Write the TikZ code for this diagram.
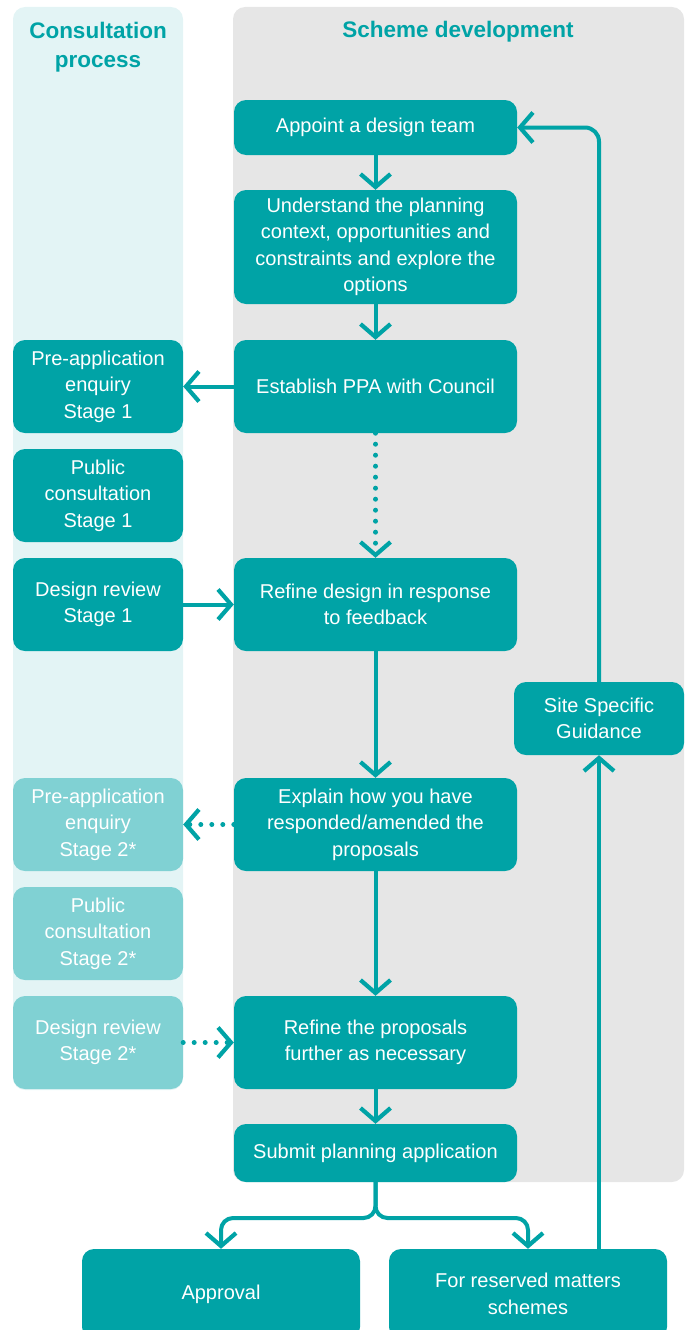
\documentclass[tikz,border=0pt]{standalone}
\usepackage{fontspec}
\setmainfont{Liberation Sans}
\usepackage{tikz}
\usetikzlibrary{arrows.meta,positioning}

\definecolor{teal}{HTML}{00A3A6}
\definecolor{lightteal}{HTML}{80D1D3}
\definecolor{consultbg}{HTML}{E3F4F5}
\definecolor{schemebg}{HTML}{E6E6E6}

\begin{document}
\begin{tikzpicture}[
    x=1pt, y=-1pt,
    box/.style={rectangle, rounded corners=12pt, fill=teal, text=white, minimum width=283pt, minimum height=93pt, align=center, font=\fontsize{20}{26.5}\selectfont, inner sep=2pt},
    sidebox/.style={box, minimum width=170pt},
    lightbox/.style={sidebox, fill=lightteal},
    band/.style={rounded corners=12pt},
    heading/.style={text=teal, align=center, font=\bfseries\fontsize{22.5}{29}\selectfont},
    arrow/.style={draw=teal, line width=4pt, -{Straight Barb[length=13pt, width=30pt, line width=4.2pt]}},
    dotarrow/.style={arrow, line width=5pt, line cap=round, dash pattern=on 0pt off 11pt}
]
    \useasboundingbox (0,0) rectangle (688,1330);

    % column backgrounds
    \fill[consultbg, band] (13,7) rectangle (183,1090);
    \fill[schemebg, band] (233,7) rectangle (684,1182);
    \node[heading] (consulthead) at (98,47) {Consultation\\process};
    \node[heading] (schemehead) at (458,32) {Scheme development};

    % scheme development
    \node[box, minimum height=55pt] (appoint) at (375.5,127.5) {Appoint a design team};
    \node[box, minimum height=114pt] (context) at (375.5,247) {Understand the planning\\context, opportunities and\\constraints and explore the\\options};
    \node[box] (ppa) at (375.5,386.5) {Establish PPA with Council};
    \node[box] (refine) at (375.5,604.5) {Refine design in response\\to feedback};
    \node[box] (explain) at (375.5,824.5) {Explain how you have\\responded/amended the\\proposals};
    \node[box] (further) at (375.5,1042.5) {Refine the proposals\\further as necessary};
    \node[box, minimum height=58pt] (submit) at (375.5,1153) {Submit planning application};
    \node[box, minimum width=278pt, minimum height=90pt] (approval) at (221,1294) {Approval};
    \node[box, minimum width=278pt, minimum height=90pt] (reserved) at (528,1294) {For reserved matters\\schemes};
    \node[sidebox, minimum height=73pt] (guidance) at (599,718.5) {Site Specific\\Guidance};

    % consultation process
    \node[sidebox] (preapp1) at (98,386.5) {Pre-application\\enquiry\\Stage 1};
    \node[sidebox] (public1) at (98,495.5) {Public\\consultation\\Stage 1};
    \node[sidebox] (review1) at (98,604.5) {Design review\\Stage 1};
    \node[lightbox] (preapp2) at (98,824.5) {Pre-application\\enquiry\\Stage 2*};
    \node[lightbox] (public2) at (98,933.5) {Public\\consultation\\Stage 2*};
    \node[lightbox] (review2) at (98,1042.5) {Design review\\Stage 2*};

    \coordinate (split) at (375.5,1218);

    \draw[arrow] (appoint) -- (context);
    \draw[arrow] (context) -- (ppa);
    \draw[arrow] (ppa) -- (preapp1);
    \draw[dotarrow] (ppa.south) -- (refine.north);
    \draw[arrow] (review1) -- (refine);
    \draw[arrow] (refine) -- (explain);
    \draw[dotarrow] (explain.west) -- (preapp2.east);
    \draw[arrow] (explain) -- (further);
    \draw[dotarrow] (review2.east) -- (further.west);
    \draw[arrow] (further) -- (submit);
    \draw[arrow, rounded corners=12pt] (submit.south) -- (split) -| (approval.north);
    \draw[arrow, rounded corners=12pt] (submit.south) -- (split) -| (reserved.north);
    \draw[arrow] (guidance.south |- reserved.north) -- (guidance.south);
    \draw[arrow, rounded corners=14pt] (guidance.north) |- (appoint.east);
\end{tikzpicture}
\end{document}
